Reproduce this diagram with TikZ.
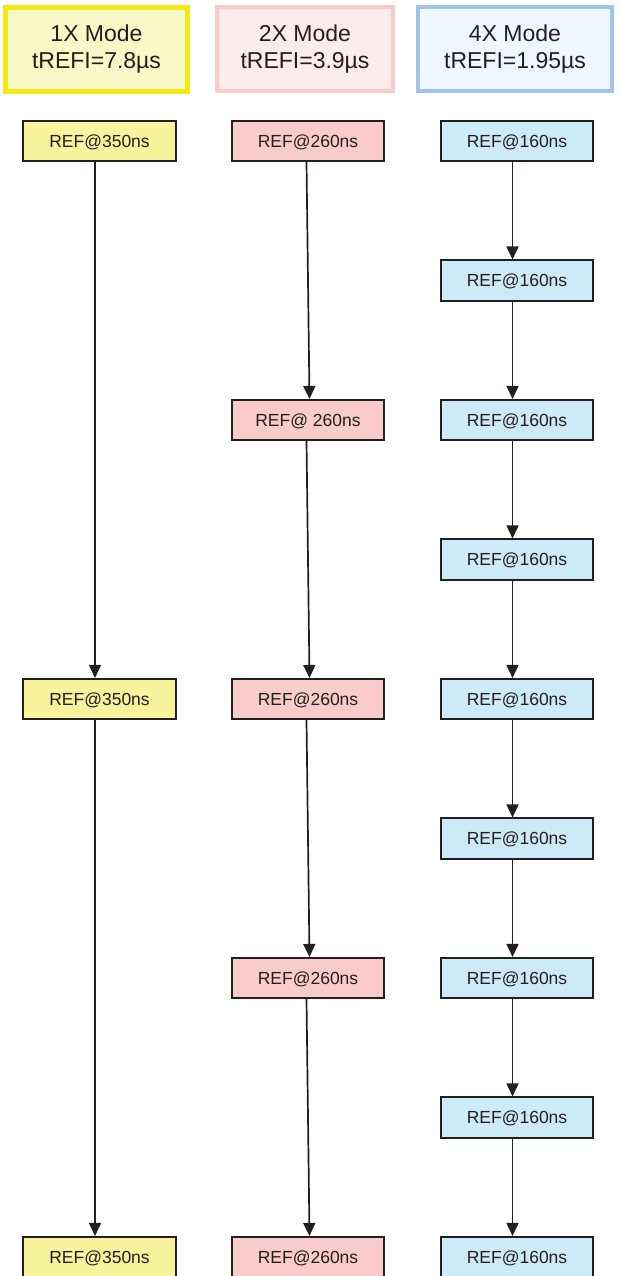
\documentclass[tikz,border=0pt]{standalone}
\usepackage{fontspec}
\setmainfont{Liberation Sans}
\usetikzlibrary{arrows.meta}

\definecolor{inkgray}{HTML}{231F20}
\definecolor{yelfill}{HTML}{F8F39C}
\definecolor{pinkfill}{HTML}{FACBCB}
\definecolor{bluefill}{HTML}{CDEAF8}
\definecolor{yelhead}{HTML}{FBF8C8}
\definecolor{yeledge}{HTML}{F4E915}
\definecolor{pinkhead}{HTML}{FEEBEB}
\definecolor{pinkedge}{HTML}{F9CBCB}
\definecolor{bluehead}{HTML}{EFF7FE}
\definecolor{blueedge}{HTML}{A0C5EA}

\tikzset{
  modehead/.style={rectangle, inner sep=0pt, align=center, text=inkgray,
    minimum height=84pt, font=\fontsize{23}{27}\selectfont},
  refbox/.style={rectangle, draw=inkgray, line width=1.6pt, inner sep=0pt,
    minimum width=152.5pt, minimum height=40.5pt, text=inkgray,
    text depth=-2pt, font=\fontsize{17.5}{20}\selectfont},
  flow/.style={draw=inkgray, line width=1.7pt,
    -{Triangle[length=13pt,width=12pt]}}
}

\begin{document}
\begin{tikzpicture}[x=1pt, y=-1pt]

% Frame (fixes the page size)
\useasboundingbox (0, 0) rectangle (618, 1276);

% Mode headers
\node[modehead, fill=yelhead, draw=yeledge, line width=5pt, minimum width=182pt]
  (head1) at (96.5, 49.5) {1X Mode\\tREFI=7.8µs};
\node[modehead, fill=pinkhead, draw=pinkedge, line width=4pt, minimum width=176pt]
  (head2) at (305, 49.5) {2X Mode\\tREFI=3.9µs};
\node[modehead, fill=bluehead, draw=blueedge, line width=4pt, minimum width=194pt]
  (head4) at (515, 49.5) {4X Mode\\tREFI=1.95µs};

% Row pitch: 139.5 px, first row centred at y = 141
\def\rowy#1{141+139.5*#1}

% 1X column
\foreach \i in {0, 4, 8} {
  \node[refbox, fill=yelfill] (a\i) at (99.5, {\rowy{\i}}) {REF@350ns};
}

% 2X column
\foreach \i/\txt in {0/REF@260ns, 2/REF@ 260ns, 4/REF@260ns, 6/REF@260ns, 8/REF@260ns} {
  \node[refbox, fill=pinkfill] (b\i) at (308, {\rowy{\i}}) {\txt};
}

% 4X column
\foreach \i in {0, ..., 8} {
  \node[refbox, fill=bluefill] (c\i) at (517, {\rowy{\i}}) {REF@160ns};
}

% Refresh intervals
\foreach \i/\j in {0/4, 4/8} {
  \draw[flow] ([xshift=-4.5pt]a\i.south) -- ([xshift=-4.5pt]a\j.north);
}
\foreach \i/\j in {0/2, 2/4, 4/6, 6/8} {
  \draw[flow] ([xshift=-1.5pt]b\i.south) -- ([xshift=1.5pt]b\j.north);
}
\foreach \i [evaluate=\i as \j using int(\i+1)] in {0, ..., 7} {
  \draw[flow] ([xshift=-4.5pt]c\i.south) -- ([xshift=-4.5pt]c\j.north);
}

\end{tikzpicture}
\end{document}
